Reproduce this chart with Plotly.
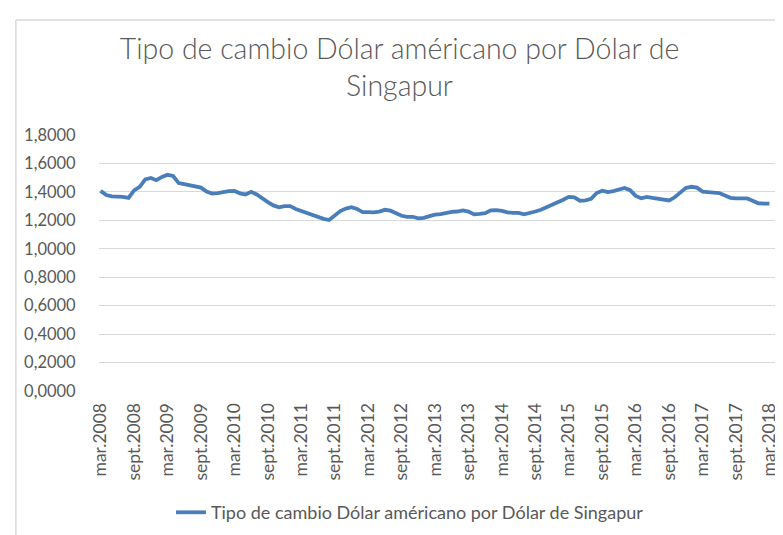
import plotly.graph_objects as go

# monthly categories, mar 2008 .. mar 2018
MONTHS = ['ene', 'feb', 'mar', 'abr', 'may', 'jun', 'jul', 'ago', 'sept', 'oct', 'nov', 'dic']
categories = [f"{MONTHS[(2 + i) % 12]}.{2008 + (2 + i) // 12}" for i in range(121)]

# USD per SGD
rates = [
    1.407, 1.378, 1.368, 1.367, 1.365, 1.358, 1.410, 1.435, 1.488, 1.498,
    1.482, 1.505, 1.520, 1.512, 1.462, 1.454, 1.448, 1.442, 1.430, 1.402,
    1.388, 1.392, 1.400, 1.405, 1.407, 1.390, 1.382, 1.400, 1.382, 1.352,
    1.328, 1.305, 1.292, 1.300, 1.300, 1.280, 1.265, 1.252, 1.237, 1.222,
    1.210, 1.202, 1.232, 1.265, 1.283, 1.292, 1.280, 1.258, 1.258, 1.256,
    1.262, 1.274, 1.268, 1.252, 1.232, 1.225, 1.225, 1.214, 1.218, 1.230,
    1.240, 1.243, 1.253, 1.260, 1.262, 1.270, 1.262, 1.242, 1.245, 1.250,
    1.270, 1.272, 1.267, 1.256, 1.253, 1.253, 1.242, 1.250, 1.262, 1.274,
    1.290, 1.310, 1.322, 1.345, 1.365, 1.362, 1.338, 1.340, 1.352, 1.392,
    1.408, 1.398, 1.405, 1.414, 1.428, 1.412, 1.372, 1.355, 1.365, 1.358,
    1.352, 1.348, 1.340, 1.362, 1.398, 1.428, 1.436, 1.430, 1.402, 1.396,
    1.395, 1.392, 1.378, 1.358, 1.355, 1.356, 1.354, 1.337, 1.320, 1.318,
    1.318,
]

y_ticks = [0, 0.2, 0.4, 0.6, 0.8, 1.0, 1.2, 1.4, 1.6, 1.8]
y_labels = [f"{v:.4f}".replace('.', ',') for v in y_ticks]

SERIES = 'Tipo de cambio Dólar américano por Dólar de Singapur'
FONT = 'Lato'
GREY = '#595959'

fig = go.Figure()
fig.add_trace(go.Scatter(
    x=categories, y=rates, mode='lines', name=SERIES,
    line=dict(color='#4a7ebb', width=3.8),
))

fig.update_layout(
    width=783, height=535,
    margin=dict(l=91, r=12, t=127, b=151),
    paper_bgcolor='white', plot_bgcolor='white',
    font=dict(family=FONT, color=GREY),
    title=dict(
        text='Tipo de cambio Dólar américano por Dólar de<br>Singapur',
        x=0.5, xanchor='center', y=0.905, yanchor='middle',
        font=dict(family=FONT, size=28.5, color=GREY, weight=300),
    ),
    xaxis=dict(
        type='category', range=[-0.3, 121.0],
        tickvals=categories[::6], ticktext=categories[::6],
        tickangle=-90, tickfont=dict(size=17.5, color=GREY),
        showgrid=False, zeroline=False, showline=False,
        ticks='outside', ticklen=4, tickcolor='rgba(0,0,0,0)',
    ),
    yaxis=dict(
        range=[0, 1.8], tickvals=y_ticks, ticktext=y_labels,
        tickfont=dict(size=16.5, color=GREY),
        showgrid=True, gridcolor='#d9d9d9', gridwidth=1,
        zeroline=False, showline=False,
        ticks='outside', ticklen=19, tickcolor='rgba(0,0,0,0)',
    ),
    showlegend=True,
    legend=dict(
        orientation='h', x=0.46, xanchor='center', y=-0.475, yanchor='middle',
        font=dict(size=18, color=GREY),
    ),
    shapes=[
        dict(type='line', xref='paper', yref='paper',
             x0=-0.123, x1=1.02, y0=1.449, y1=1.449,
             line=dict(color='#d9d9d9', width=1.5)),
        dict(type='line', xref='paper', yref='paper',
             x0=-0.123, x1=-0.123, y0=1.449, y1=-0.6,
             line=dict(color='#d9d9d9', width=1.5)),
    ],
)

fig.write_html("out.html")
